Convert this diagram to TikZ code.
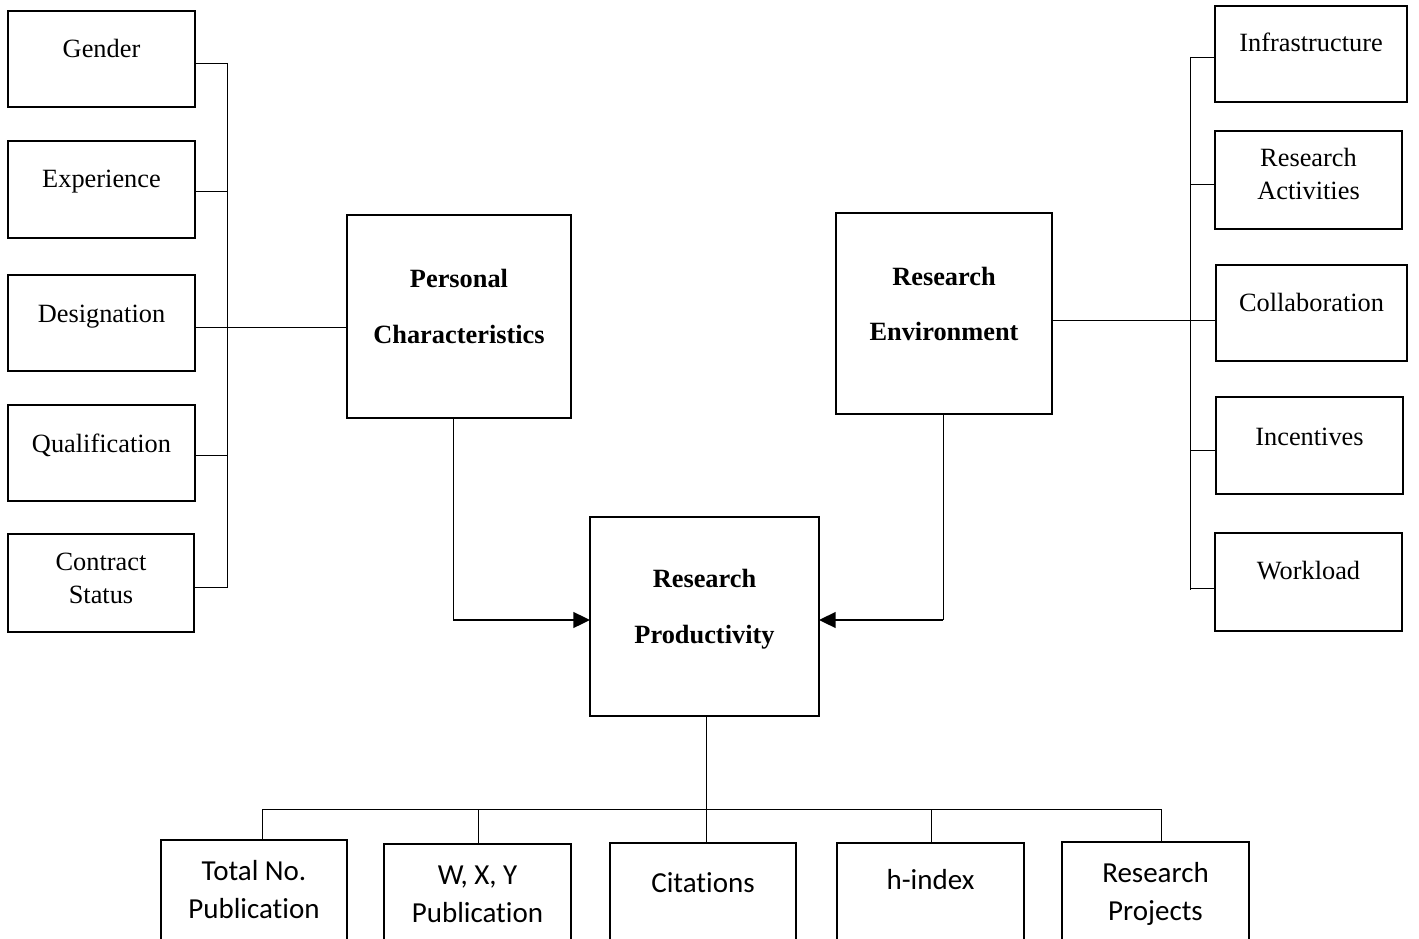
\documentclass[tikz,border=0pt]{standalone}
\usepackage{fontspec}
\setmainfont{Liberation Serif}
\newfontfamily\calfont[Ligatures=NoCommon]{Carlito}
\usetikzlibrary{arrows.meta}
\newcommand{\bx}[5]{\node[box, minimum width={(#4-#2)*0.02cm}, minimum height={(#5-#3)*0.02cm}] (#1) at ({(#2+#4)/2},{(#3+#5)/2}) {};}
\begin{document}
\begin{tikzpicture}[x=0.02cm,y=-0.02cm,
  box/.style={draw, line width=0.95pt, inner sep=0pt, outer sep=0pt},
  lab/.style={anchor=base, inner sep=0pt, font=\fontsize{15}{18}\selectfont},
  blab/.style={anchor=base, inner sep=0pt, font=\fontsize{15}{18}\selectfont\bfseries},
  clab/.style={anchor=base, inner sep=0pt, font=\calfont\fontsize{16.5}{20}\selectfont},
  conn/.style={draw, line width=0.55pt},
  arr/.style={draw, line width=1.1pt, -{Triangle[length=9.5pt,width=9pt]}}]
\useasboundingbox (0,0) rectangle (1419,939);
\clip (0,0) rectangle (1419,939);
% left boxes
\bx{gender}{8}{11}{195}{107}
\bx{exper}{8}{141}{195}{238}
\bx{desig}{8}{275}{195}{371}
\bx{qual}{8}{405}{195}{501}
\bx{contr}{8}{534}{194}{632}
% central boxes
\bx{pc}{347}{215}{571}{418}
\bx{re}{836}{213}{1052}{414}
\bx{rp}{590}{517}{819}{716}
% right boxes
\bx{infra}{1215}{6}{1407}{102}
\bx{ract}{1215}{131}{1402}{229}
\bx{collab}{1216}{265}{1407}{361}
\bx{incent}{1216}{397}{1403}{494}
\bx{work}{1215}{533}{1402}{631}
% bottom boxes (cut by the lower edge)
\bx{total}{161}{840}{347}{990}
\bx{wxy}{384}{844}{571}{990}
\bx{cit}{610}{843}{796}{990}
\bx{hidx}{837}{843}{1024}{990}
\bx{rproj}{1062}{842}{1249}{990}
% labels
\node[lab] (gender-t) at (101.5,58) {Gender};
\node[lab] (exper-t) at (101.5,188) {Experience};
\node[lab] (desig-t) at (101.5,322) {Designation};
\node[lab] (qual-t) at (101.5,452) {Qualification};
\node[lab] (contr-t1) at (101,570) {Contract};
\node[lab] (contr-t2) at (101,603) {Status};
\node[blab] (pc-t1) at (459,287) {Personal};
\node[blab] (pc-t2) at (459,343) {Characteristics};
\node[blab] (re-t1) at (944,285) {Research};
\node[blab] (re-t2) at (944,340) {Environment};
\node[blab] (rp-t1) at (704.5,587) {Research};
\node[blab] (rp-t2) at (704.5,643) {Productivity};
\node[lab] (infra-t) at (1311,52) {Infrastructure};
\node[lab] (ract-t1) at (1308.5,167) {Research};
\node[lab] (ract-t2) at (1308.5,200) {Activities};
\node[lab] (collab-t) at (1311.5,311) {Collaboration};
\node[lab] (incent-t) at (1309.5,445) {Incentives};
\node[lab] (work-t) at (1308.5,579) {Workload};
\node[clab] (total-t1) at (254,880) {Total No.};
\node[clab] (total-t2) at (254,918) {Publication};
\node[clab] (wxy-t1) at (477.5,884) {W, X, Y};
\node[clab] (wxy-t2) at (477.5,922) {Publication};
\node[clab] (cit-t) at (703,892) {Citations};
\node[clab] (hidx-t) at (930.5,889) {h-index};
\node[clab] (rproj-t1) at (1155.5,882) {Research};
\node[clab] (rproj-t2) at (1155.5,920) {Projects};
% left bus
\coordinate (lbt) at (227,63);
\coordinate (lbb) at (227,588);
\draw[conn] (lbt) -- (lbb);
\draw[conn] (gender.east |- lbt) -- (lbt);
\draw[conn] (exper.east |- 0,191) -- (227,191);
\draw[conn] (qual.east |- 0,455) -- (227,455);
\draw[conn] (contr.east |- 0,587) -- (227,587);
\draw[conn] (desig.east |- 0,327) -- (pc.west |- 0,327);
% right bus
\coordinate (rbt) at (1190,57);
\coordinate (rbb) at (1190,590);
\draw[conn] (rbt) -- (rbb);
\draw[conn] (infra.west |- rbt) -- (rbt);
\draw[conn] (ract.west |- 0,184) -- (1190,184);
\draw[conn] (incent.west |- 0,450) -- (1190,450);
\draw[conn] (work.west |- 0,588) -- (1190,588);
\draw[conn] (re.east |- 0,320) -- (collab.west |- 0,320);
% arrows into research productivity
\coordinate (pcc) at (453,620);
\coordinate (rec) at (943,620);
\draw[conn] (pc.south -| pcc) -- (pcc);
\draw[arr] (pcc) -- (rp.west |- pcc);
\draw[conn] (re.south -| rec) -- (rec);
\draw[arr] (rec) -- (rp.east |- rec);
% bottom tree
\coordinate (bl) at (262,809);
\coordinate (br) at (1161,809);
\draw[conn] (rp.south -| 706,0) -- (cit.north -| 706,0);
\draw[conn] (bl) -- (br);
\draw[conn] (bl) -- (total.north -| bl);
\draw[conn] (478,809) -- (wxy.north -| 478,0);
\draw[conn] (931,809) -- (hidx.north -| 931,0);
\draw[conn] (br) -- (rproj.north -| br);
\end{tikzpicture}
\end{document}
